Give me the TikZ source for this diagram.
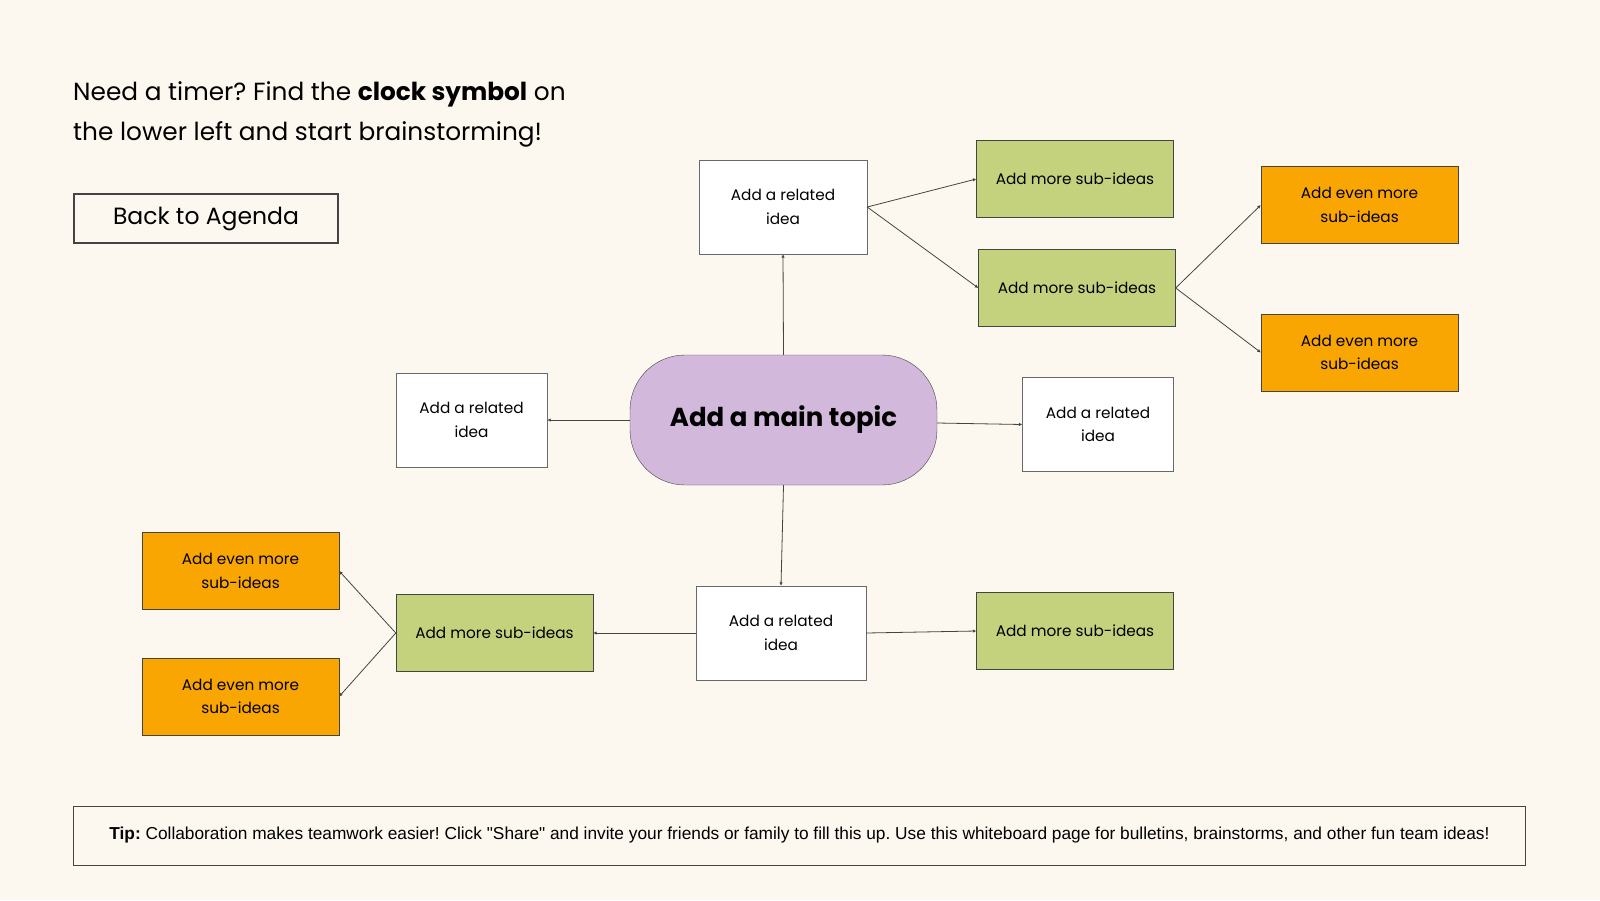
\documentclass[tikz,border=0pt]{standalone}
\usepackage{fontspec}
\setmainfont{Poppins}
\newfontfamily\tipfont{Liberation Sans}
\usetikzlibrary{positioning}
\usetikzlibrary{arrows.meta}

\definecolor{paper}{HTML}{FDF8EF}
\definecolor{inkline}{HTML}{444444}
\definecolor{subgreen}{HTML}{C4D17D}
\definecolor{evenorange}{HTML}{F9A602}
\definecolor{topicpurple}{HTML}{D2B9DC}

\tikzset{
    relatedbox/.style={draw=inkline!80, fill=white, minimum width=168pt, minimum height=94pt,
        align=center, inner sep=0pt, font=\fontsize{15.3}{23.5}\selectfont},
    subbox/.style={draw=inkline, fill=subgreen, minimum width=197pt, minimum height=77pt,
        align=center, inner sep=0pt, font=\fontsize{15.3}{23.5}\selectfont},
    evenbox/.style={draw=inkline, fill=evenorange, minimum width=197pt, minimum height=77pt,
        align=center, inner sep=0pt, font=\fontsize{15.3}{23.5}\selectfont},
    link/.style={draw=inkline, line width=0.8pt, -{Latex[length=3.5pt,width=3.5pt]}}
}

\begin{document}
\frenchspacing
\begin{tikzpicture}[x=1pt,y=-1pt]
            % Draw the page
            \fill[paper] (0,0) rectangle (1600,900);
            \useasboundingbox (0,0) rectangle (1600,900);

            % Draw the heading and the agenda button
            \node[anchor=west, align=left, inner sep=0pt, font=\fontsize{24.8}{40}\selectfont] (timer) at (73,114.5)
                {Need a timer? Find the \textbf{clock symbol} on\\the lower left and start brainstorming!};
            \node[draw=inkline, line width=1.2pt, minimum width=264pt, minimum height=49pt, inner sep=0pt,
                font=\fontsize{23.5}{28}\selectfont] (agenda) at (206,218.5) {Back to Agenda};

            % Draw the main topic
            \node[draw=inkline, fill=topicpurple, rounded corners=55pt, minimum width=307pt, minimum height=130pt,
                inner sep=0pt, font=\fontsize{26}{30}\selectfont\bfseries] (topic) at (783.5,420) {\raisebox{-4pt}{Add a main topic}};

            % Draw the related ideas
            \node[relatedbox] (ideaup) at (783,207) {Add a related\\idea};
            \node[relatedbox, minimum width=151pt] (idealeft) at (471.5,420) {Add a related\\idea};
            \node[relatedbox, minimum width=151pt] (idearight) at (1098,424.5) {Add a related\\idea};
            \node[relatedbox, minimum width=170pt] (ideadown) at (781,633) {Add a related\\idea};

            % Draw the sub-ideas
            \node[subbox] (subup) at (1075,179) {Add more sub-ideas};
            \node[subbox] (submid) at (1077,288) {Add more sub-ideas};
            \node[subbox] (subright) at (1075,631) {Add more sub-ideas};
            \node[subbox] (subleft) at (494.5,633) {Add more sub-ideas};

            % Draw the even more sub-ideas
            \node[evenbox] (evenup) at (1359.5,205) {Add even more\\sub-ideas};
            \node[evenbox] (evendown) at (1359.5,352.5) {Add even more\\sub-ideas};
            \node[evenbox] (evenleftup) at (240.5,571) {Add even more\\sub-ideas};
            \node[evenbox] (evenleftdown) at (240.5,696.5) {Add even more\\sub-ideas};

            % Draw the connectors
            \draw[link] (topic.north) -- (ideaup.south);
            \draw[link] (topic.west) -- (idealeft.east);
            \draw[link] ([yshift=-3pt]topic.east) -- (idearight.west);
            \draw[link] (topic.south) -- (ideadown.north);
            \draw[link] (ideaup.east) -- (subup.west);
            \draw[link] (ideaup.east) -- (submid.west);
            \draw[link] (submid.east) -- (evenup.west);
            \draw[link] (submid.east) -- (evendown.west);
            \draw[link] (ideadown.east) -- (subright.west);
            \draw[link] (ideadown.west) -- (subleft.east);
            \draw[link] (subleft.west) -- (evenleftup.east);
            \draw[link] (subleft.west) -- (evenleftdown.east);

            % Draw the tip
            \node[draw=inkline, line width=1pt, minimum width=1452pt, minimum height=59pt, inner sep=0pt,
                font=\tipfont\fontsize{17.3}{20}\selectfont] (tip) at (799.5,835.5)
                {\raisebox{-2pt}{\textbf{Tip:} Collaboration makes teamwork easier! Click "Share" and invite your friends or family to fill this up. Use this whiteboard page for bulletins, brainstorms, and other fun team ideas!}};

        \end{tikzpicture}
\end{document}
